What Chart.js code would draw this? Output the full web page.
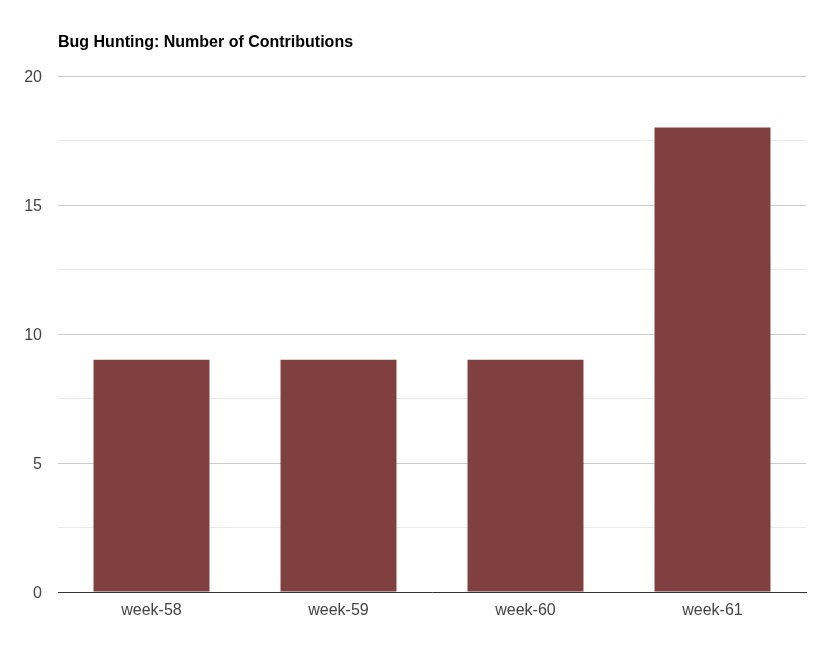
<!DOCTYPE html>
<html>
<head>
<meta charset="utf-8">
<script src="https://cdn.jsdelivr.net/npm/chart.js@4/dist/chart.umd.min.js"></script>
<style>
  html, body { margin: 0; padding: 0; background: #fff; }
  #wrap { width: 820px; height: 652px; }
</style>
</head>
<body>
<div id="wrap"><canvas id="bugChart" width="820" height="652"></canvas></div>
<script>
const weeks = ['week-58', 'week-59', 'week-60', 'week-61'];
const contributions = [9, 9, 9, 18];
const chartTitle = 'Bug Hunting: Number of Contributions';

// draws the bold title left-aligned above the plot area
const titlePlugin = {
    id: 'leftTitle',
    afterDraw(chart) {
        const c = chart.ctx;
        c.save();
        c.font = 'bold 16px "Liberation Sans", Arial, sans-serif';
        c.fillStyle = '#000';
        c.textBaseline = 'middle';
        c.fillText(chartTitle, chart.chartArea.left, 42.5);
        c.restore();
    }
};

const bugCtx = document.getElementById('bugChart').getContext('2d');
const bugChart = new Chart(bugCtx, {
    type: 'bar',
    data: {
        labels: weeks,
        datasets: [{
            label: 'Contributions',
            data: contributions,
            backgroundColor: '#804040',
            barPercentage: 0.62,
            categoryPercentage: 1
        }]
    },
    options: {
        responsive: false,
        animation: false,
        layout: { padding: { top: 76, right: 14, bottom: 0, left: 0 } },
        plugins: {
            legend: { display: false },
            tooltip: { enabled: false }
        },
        scales: {
            y: {
                min: 0,
                max: 20,
                afterFit(axis) { axis.width = 58; },
                ticks: {
                    stepSize: 2.5,
                    padding: 16,
                    labelOffset: 2,
                    color: '#444',
                    font: { family: '"Liberation Sans", Arial, sans-serif', size: 16 },
                    callback: v => (v % 5 === 0 ? v : '')
                },
                grid: {
                    drawTicks: false,
                    color: c => (c.tick && c.tick.value % 5 === 0 ? '#cccccc' : '#ebebeb')
                },
                border: { display: false }
            },
            x: {
                afterFit(axis) { axis.height = 60; },
                ticks: {
                    padding: 9,
                    color: '#444',
                    font: { family: '"Liberation Sans", Arial, sans-serif', size: 16 }
                },
                grid: { display: false, drawTicks: false },
                border: { color: '#333', width: 1 }
            }
        }
    },
    plugins: [titlePlugin]
});
</script>
</body>
</html>
